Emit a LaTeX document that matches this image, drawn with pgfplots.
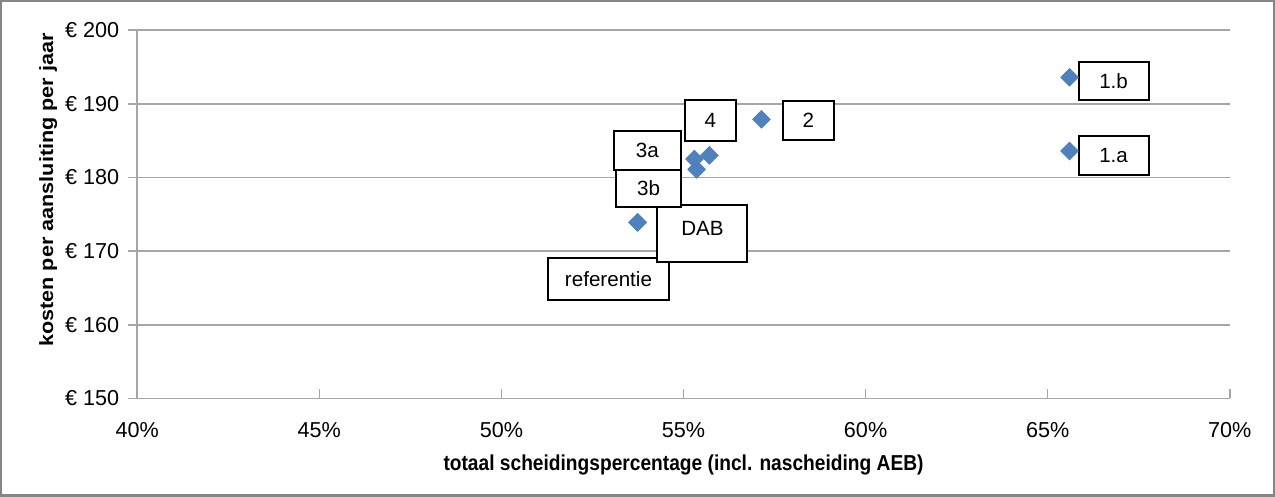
\documentclass[border=0pt]{standalone}
\usepackage{pgfplots}
\pgfplotsset{compat=1.18}
\usepackage{graphicx}
\usepackage{fontspec}
\setmainfont{Liberation Sans}
\definecolor{mk}{HTML}{4F81BD}
\definecolor{gridc}{HTML}{A6A6A6}
\definecolor{framec}{HTML}{868686}
\begin{document}
\begin{tikzpicture}
\begin{axis}[
  at={(0,0)}, anchor=south west,
  scale only axis, width=546pt, height=184pt,
  xmin=40, xmax=70, ymin=150, ymax=200,
  clip=false,
  axis lines*=left,
  axis line style={gridc, line width=0.8pt, -},
  xtick={40,45,50,55,60,65,70},
  xticklabels={40\%,45\%,50\%,55\%,60\%,65\%,70\%},
  ytick={150,160,170,180,190,200},
  yticklabels={€ 150,€ 160,€ 170,€ 180,€ 190,€ 200},
  tick align=outside,
  major tick length=4.5pt,
  ytick style={gridc, line width=0.8pt},
  xtick style={gridc, line width=0.8pt, yshift=4.5pt},
  ymajorgrids,
  grid style={gridc, line width=0.8pt},
  tick label style={font=\fontsize{10.8}{12}\selectfont},
  yticklabel style={xshift=-1pt},
  xticklabel style={yshift=-4pt},
]
\addplot[only marks, mark=square*, mark size=3.1pt, mark options={rotate=45, fill=mk, draw=mk}]
coordinates {
 (65.6,193.6) (65.6,183.6) (57.14,187.9) (55.71,183.0)
 (55.30,182.5) (55.36,181.1) (53.74,173.9) (53.74,173.9)
};
\tikzset{lb/.style={draw=black, fill=white, line width=1pt, inner sep=0pt, font=\fontsize{10.3}{12}\selectfont}}
\node[lb, minimum width=60pt, minimum height=21pt] at (axis cs:52.94,166.2) {referentie};
\node[lb, minimum width=45pt, text height=15.1pt, text depth=13.4pt, text width=45pt, align=center] at (axis cs:55.52,172.4) {DAB};
\node[lb, minimum width=32.5pt, minimum height=18.5pt] at (axis cs:54.04,178.5) {3b};
\node[lb, minimum width=33.5pt, minimum height=19.5pt] at (axis cs:54.01,183.7) {3a};
\node[lb, minimum width=25.5pt, minimum height=20.5pt] at (axis cs:55.74,187.8) {4};
\node[lb, minimum width=25.5pt, minimum height=19.5pt] at (axis cs:58.43,187.8) {2};
\node[lb, minimum width=35pt, minimum height=19pt] at (axis cs:66.81,193.07) {1.b};
\node[lb, minimum width=35pt, minimum height=19.5pt] at (axis cs:66.81,183.0) {1.a};
\node[font=\bfseries\fontsize{10.8}{12}\selectfont, rotate=90] at (axis cs:37.555,178.3) {\scalebox{1}[0.887]{kosten per aansluiting per jaar}};
\node[font=\bfseries\fontsize{10.8}{12}\selectfont] at (axis cs:55,140.9) {\scalebox{0.887}[1]{totaal scheidingspercentage (incl. nascheiding AEB)}};
\draw[framec, line width=1.2pt] (axis cs:36.264,203.94) rectangle (axis cs:71.209,136.82);
\end{axis}
\end{tikzpicture}
\end{document}
